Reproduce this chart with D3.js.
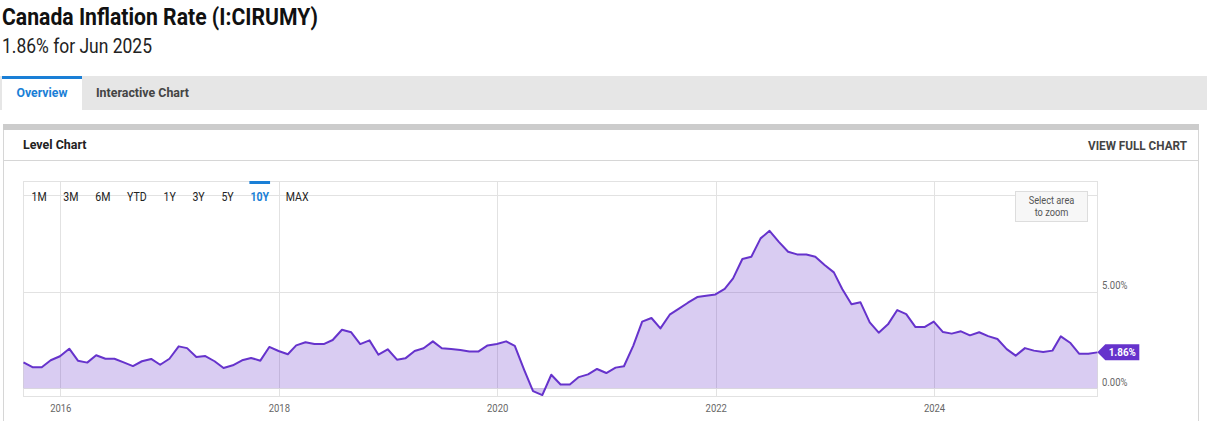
<!DOCTYPE html>
<html>
<head>
<meta charset="utf-8">
<script src="https://cdn.jsdelivr.net/npm/d3@7"></script>
<style>
  body { margin: 0; background: #fff; }
  svg { display: block; font-family: Roboto, "Open Sans", sans-serif; }
</style>
</head>
<body>
<div class="chart-container"></div>
<script>
// monthly readings, Aug 2015 .. Jun 2025 (percent, year over year)
var start_month = new Date(2015, 7, 1)
var end_month = new Date(2025, 6, 1)
var values = [
  1.34, 1.09, 1.09, 1.45, 1.66,
  2.05, 1.43, 1.33, 1.71, 1.53, 1.53, 1.34, 1.15, 1.40, 1.52, 1.22, 1.53,
  2.17, 2.08, 1.62, 1.67, 1.40, 1.05, 1.19, 1.45, 1.57, 1.43, 2.14, 1.93,
  1.76, 2.22, 2.38, 2.29, 2.29, 2.50, 3.03, 2.90, 2.29, 2.48, 1.74, 2.02,
  1.48, 1.55, 1.93, 2.07, 2.43, 2.07, 2.03, 1.98, 1.91, 1.91, 2.22, 2.29,
  2.43, 2.20, 0.97, -0.15, -0.35, 0.70, 0.20, 0.20, 0.58, 0.72, 1.00, 0.79,
  1.07, 1.14, 2.20, 3.45, 3.64, 3.10, 3.81, 4.12, 4.43, 4.72, 4.79, 4.86,
  5.15, 5.69, 6.69, 6.81, 7.76, 8.15, 7.58, 7.07, 6.93, 6.93, 6.81, 6.38,
  6.00, 5.14, 4.35, 4.45, 3.41, 2.88, 3.31, 4.05, 3.84, 3.17, 3.17, 3.45,
  2.91, 2.83, 2.95, 2.74, 2.90, 2.70, 2.55, 2.03, 1.69, 2.08, 1.95, 1.88,
  1.95, 2.69, 2.36, 1.79, 1.79, 1.86
]
var year_ticks = [2016, 2018, 2020, 2022, 2024]
var y_ticks = [0, 5]
var y_grid = [0, 5, 10]
var ranges = ["1M", "3M", "6M", "YTD", "1Y", "3Y", "5Y", "10Y", "MAX"]
var active_range = "10Y"
var title = "Canada Inflation Rate (I:CIRUMY)"
var last_label = "1.86%"
var subtitle = last_label + " for Jun 2025"

// points sit on the last day of each month
var data = d3.timeMonth.range(start_month, end_month).map(function(m, i){
  return {date: d3.timeDay.offset(d3.timeMonth.offset(m, 1), -1), value: values[i]}
})

var width = 1207, height = 421
var plot = {left: 23.5, right: 1097.5, top: 181.5, bottom: 396.5}
var purple = "#6633cc", blue = "#1a7fd6", grid = "#e2e2e2"

var svg = d3.select('.chart-container')
  .append('svg')
  .attr('width', width)
  .attr('height', height)

// squeeze Roboto a bit, the page uses a condensed face
function condense(sel, k){
  sel.each(function(){
    var w = this.getComputedTextLength()
    d3.select(this).attr('textLength', w * k).attr('lengthAdjust', 'spacingAndGlyphs')
  })
}
function fit(sel, w){
  sel.attr('textLength', w).attr('lengthAdjust', 'spacingAndGlyphs')
}

// header
svg.append('text').attr('x', 2).attr('y', 25)
  .attr('font-size', 24).attr('font-weight', 700).attr('fill', '#111')
  .text(title).call(fit, 316)
svg.append('text').attr('x', 2).attr('y', 53)
  .attr('font-size', 19.5).attr('fill', '#222')
  .text(subtitle).call(fit, 150)

// tabs
svg.append('rect').attr('x', 0).attr('y', 76).attr('width', width).attr('height', 34).attr('fill', '#e6e6e6')
svg.append('rect').attr('x', 2).attr('y', 76).attr('width', 80).attr('height', 34).attr('fill', '#fff')
svg.append('rect').attr('x', 2).attr('y', 76).attr('width', 80).attr('height', 3).attr('fill', blue)
svg.append('text').attr('x', 16.5).attr('y', 96.5)
  .attr('font-size', 13.5).attr('font-weight', 700).attr('fill', blue)
  .text('Overview').call(fit, 51)
svg.append('text').attr('x', 96).attr('y', 96.5)
  .attr('font-size', 13.5).attr('font-weight', 700).attr('fill', '#444')
  .text('Interactive Chart').call(fit, 93)

// card
svg.append('rect').attr('x', 3).attr('y', 124).attr('width', 1196).attr('height', 6).attr('fill', '#cccccc')
svg.append('path').attr('d', 'M3.5,130V421M1198.5,130V421M3,160.5H1199')
  .attr('stroke', '#d6d6d6').attr('fill', 'none')
svg.append('text').attr('x', 23).attr('y', 148.5)
  .attr('font-size', 13.5).attr('font-weight', 700).attr('fill', '#222')
  .text('Level Chart').call(fit, 63.5)
svg.append('text').attr('x', 1187).attr('y', 149.5).attr('text-anchor', 'end')
  .attr('font-size', 12.5).attr('font-weight', 700).attr('fill', '#444')
  .text('VIEW FULL CHART').call(fit, 99)

// scales
var x = d3.scaleTime()
  .domain(d3.extent(data, function(d){return d.date}))
  .range([plot.left, plot.right - 0.2])
var y = d3.scaleLinear()
  .domain([0, 5])
  .range([388.3, 291.7])

// grid
var g_grid = svg.append('g').attr('class', 'grid')
g_grid.selectAll('.vgrid')
  .data(year_ticks)
  .enter()
  .append('line')
  .attr('x1', function(d){return Math.round(x(new Date(d, 0, 1))) + 0.5})
  .attr('x2', function(d){return Math.round(x(new Date(d, 0, 1))) + 0.5})
  .attr('y1', plot.top)
  .attr('y2', plot.bottom)
  .attr('stroke', grid)
g_grid.selectAll('.hgrid')
  .data(y_grid)
  .enter()
  .append('line')
  .attr('x1', plot.left)
  .attr('x2', plot.right)
  .attr('y1', function(d){return Math.round(y(d)) + 0.5})
  .attr('y2', function(d){return Math.round(y(d)) + 0.5})
  .attr('stroke', grid)
svg.append('rect')
  .attr('x', plot.left).attr('y', plot.top)
  .attr('width', plot.right - plot.left).attr('height', plot.bottom - plot.top)
  .attr('fill', 'none').attr('stroke', grid)

// area + line
var area = d3.area()
  .x(function(d){return x(d.date)})
  .y0(y(0))
  .y1(function(d){return y(d.value)})
var line = d3.line()
  .x(function(d){return x(d.date)})
  .y(function(d){return y(d.value)})
svg.append('path').datum(data)
  .attr('d', area)
  .attr('fill', purple).attr('fill-opacity', 0.25)
svg.append('path').datum(data)
  .attr('d', line)
  .attr('fill', 'none')
  .attr('stroke', purple)
  .attr('stroke-width', 2)
  .attr('stroke-linejoin', 'round')

// axes
var x_axis = d3.axisBottom(x)
  .tickValues(year_ticks.map(function(d){return new Date(d, 0, 1)}))
  .tickFormat(d3.timeFormat('%Y'))
  .tickSize(0)
  .tickPadding(8)
svg.append('g')
  .attr('transform', 'translate(0,' + plot.bottom + ')')
  .call(x_axis)
  .call(function(g){g.select('.domain').remove()})
  .selectAll('text')
  .attr('font-family', 'Roboto, sans-serif')
  .attr('font-size', 11)
  .attr('fill', '#666')
  .call(condense, 0.86)

var y_axis = d3.axisRight(y)
  .tickValues(y_ticks)
  .tickFormat(function(d){return d3.format('.2f')(d) + '%'})
  .tickSize(0)
  .tickPadding(4.5)
svg.append('g')
  .attr('transform', 'translate(' + plot.right + ',0)')
  .call(y_axis)
  .call(function(g){g.select('.domain').remove()})
  .selectAll('text')
  .attr('dy', '-0.28em')
  .attr('font-family', 'Roboto, sans-serif')
  .attr('font-size', 11)
  .attr('fill', '#666')
  .call(condense, 0.86)

// last value flag
var last = data[data.length - 1]
var lx = x(last.date), ly = y(last.value)
svg.append('path')
  .attr('d', 'M' + lx + ',' + ly + 'L' + (lx + 8) + ',' + (ly - 8) + 'H' + (lx + 42) + 'V' + (ly + 8) + 'H' + (lx + 8) + 'Z')
  .attr('fill', purple)
svg.append('text')
  .attr('x', lx + 25).attr('y', ly + 4)
  .attr('text-anchor', 'middle')
  .attr('font-size', 11.5).attr('font-weight', 700).attr('fill', '#fff')
  .text(last_label).call(condense, 0.86)

// range buttons
var b = svg.append('g').attr('class', 'ranges')
b.selectAll('text')
  .data(ranges)
  .enter()
  .append('text')
  .attr('y', 201)
  .attr('font-size', 12)
  .attr('fill', function(d){return d == active_range ? blue : '#222'})
  .attr('font-weight', function(d){return d == active_range ? 700 : 400})
  .text(function(d){return d})
  .call(condense, 0.88)
// lay them out one after another, fixed gap
var cursor = 31.5
b.selectAll('text').each(function(d){
  var w = +d3.select(this).attr('textLength')
  d3.select(this).attr('x', cursor)
  if (d == active_range) {
    b.append('rect').attr('x', cursor - 1).attr('y', 181).attr('width', w + 2).attr('height', 3).attr('fill', blue)
  }
  cursor += w + 16.7
})

// zoom hint
svg.append('rect').attr('x', 1015.5).attr('y', 191.5).attr('width', 72).attr('height', 30)
  .attr('fill', '#f7f7f7').attr('stroke', '#dddddd')
svg.append('text').attr('x', 1051.5).attr('y', 204).attr('text-anchor', 'middle')
  .attr('font-size', 10.5).attr('fill', '#555').text('Select area').call(condense, 0.88)
svg.append('text').attr('x', 1051.5).attr('y', 215.5).attr('text-anchor', 'middle')
  .attr('font-size', 10.5).attr('fill', '#555').text('to zoom').call(condense, 0.88)
</script>
</body>
</html>
